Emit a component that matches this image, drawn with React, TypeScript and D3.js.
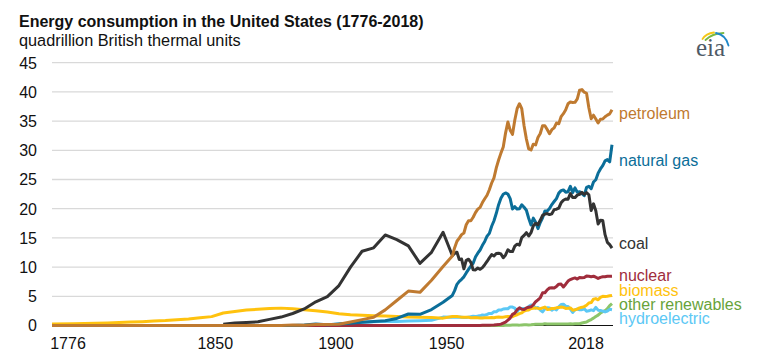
import React from "react";
import * as d3 from "d3";

// ---------- DATA ----------
const earlyYears = [1776, 1785, 1795, 1800, 1805, 1810, 1815, 1820, 1825, 1830, 1835, 1840, 1845,
  1850, 1855, 1860, 1865, 1870, 1875, 1880, 1885, 1890, 1895, 1900, 1905, 1910, 1915, 1920, 1925,
  1930, 1935, 1940, 1945];
const annualYears = d3.range(1949, 2019);
const years = [...earlyYears, ...annualYears];

const petroleum = [0, 0, 0, 0, 0, 0, 0, 0, 0, 0, 0, 0, 0,
  0, 0, 0.003, 0.01, 0.011, 0.011, 0.096, 0.04, 0.156, 0.168, 0.229, 0.61, 1.007, 1.418, 2.676, 4.28,
  5.897, 5.675, 7.76, 10.11,
  11.88, 13.32, 14.43, 14.96, 15.56, 15.84, 17.25, 17.94, 17.93, 18.53, 19.32, 19.92, 20.22, 21.05,
  21.7, 22.3, 23.25, 24.4, 25.28, 26.98, 28.34, 29.52, 30.56, 32.95, 34.84, 33.45, 32.73, 35.18,
  37.12, 37.97, 37.12, 34.2, 31.93, 30.23, 30.05, 31.05, 30.92, 32.2, 32.87, 34.22, 34.21, 33.55,
  32.85, 33.53, 33.84, 34.67, 34.55, 35.76, 36.27, 36.93, 37.96, 38.26, 38.19, 38.22, 38.81, 40.29,
  40.39, 39.95, 39.77, 37.28, 35.4, 36.01, 35.36, 34.69, 35.32, 35.36, 35.74, 36.02, 36.24, 36.95];

const naturalGas = [0, 0, 0, 0, 0, 0, 0, 0, 0, 0, 0, 0, 0,
  0, 0, 0, 0, 0, 0, 0, 0.082, 0.257, 0.147, 0.252, 0.372, 0.54, 0.673, 0.827, 1.212,
  1.969, 1.919, 2.726, 3.973,
  5.15, 5.97, 7.05, 7.55, 7.91, 8.33, 9.0, 9.61, 10.19, 10.66, 11.72, 12.39, 12.93, 13.73,
  14.4, 15.29, 15.77, 16.99, 17.94, 19.21, 20.68, 21.79, 22.47, 22.7, 22.51, 21.73, 19.95, 20.35,
  19.93, 20.0, 20.67, 20.24, 19.74, 18.36, 17.2, 18.38, 17.7, 16.59, 17.64, 18.45, 19.6, 19.6,
  20.03, 20.71, 21.23, 21.73, 22.67, 23.09, 23.22, 22.83, 22.91, 23.82, 22.77, 23.56, 22.83, 22.91,
  22.56, 22.22, 23.66, 23.84, 23.42, 24.57, 24.96, 26.09, 26.81, 27.38, 28.19, 28.4, 28.03, 30.96];

const coal = [null, null, null, null, null, null, null, null, null, null, null, null, null,
  0.219, 0.421, 0.518, 0.632, 1.048, 1.44, 2.054, 2.84, 4.062, 4.95, 6.841, 10.001, 12.714, 13.294,
  15.504, 14.706, 13.639, 10.634, 12.535, 15.972,
  11.98, 12.35, 12.55, 11.31, 11.37, 9.71, 11.17, 11.35, 10.82, 9.53, 9.52, 9.84, 9.62, 9.91,
  10.41, 10.96, 11.58, 12.14, 11.91, 12.33, 12.38, 12.26, 11.6, 12.08, 12.97, 12.66, 12.66, 13.58,
  13.92, 13.77, 15.04, 15.42, 15.91, 15.32, 15.89, 17.07, 17.48, 17.26, 18.01, 18.85, 19.07, 19.17,
  18.99, 19.12, 19.84, 19.91, 20.09, 21.0, 21.45, 21.66, 21.62, 22.58, 21.91, 21.9, 22.32, 22.47,
  22.8, 22.45, 22.75, 22.39, 19.69, 20.83, 19.66, 17.38, 18.04, 17.99, 15.55, 14.23, 13.84, 13.24];

const nuclear = [0, 0, 0, 0, 0, 0, 0, 0, 0, 0, 0, 0, 0,
  0, 0, 0, 0, 0, 0, 0, 0, 0, 0, 0, 0, 0, 0, 0, 0, 0, 0, 0, 0,
  0, 0, 0, 0, 0, 0, 0, 0, 0, 0.002, 0.002, 0.006, 0.02, 0.026,
  0.038, 0.04, 0.043, 0.064, 0.088, 0.142, 0.154, 0.239, 0.413, 0.584, 0.91, 1.272, 1.9, 2.111,
  2.702, 3.024, 2.776, 2.739, 3.008, 3.131, 3.203, 3.553, 4.076, 4.38, 4.754, 5.587, 5.602, 6.104,
  6.422, 6.479, 6.41, 6.694, 7.075, 7.087, 6.597, 7.068, 7.61, 7.862, 8.029, 8.145, 7.959, 8.223,
  8.161, 8.215, 8.459, 8.426, 8.355, 8.434, 8.269, 8.062, 8.244, 8.338, 8.337, 8.427, 8.419, 8.438];

const biomass = [0.249, 0.31, 0.402, 0.44, 0.51, 0.58, 0.65, 0.76, 0.85, 1.0, 1.13, 1.32, 1.52,
  2.138, 2.389, 2.641, 2.767, 2.893, 2.975, 2.851, 2.683, 2.515, 2.306, 2.015, 1.843, 1.765, 1.688,
  1.61, 1.533, 1.455, 1.397, 1.358, 1.261,
  1.549, 1.562, 1.535, 1.474, 1.419, 1.394, 1.424, 1.416, 1.334, 1.323, 1.353, 1.32, 1.295, 1.3,
  1.323, 1.337, 1.335, 1.369, 1.34, 1.419, 1.44, 1.431, 1.432, 1.503, 1.529, 1.54, 1.499, 1.713,
  1.838, 2.038, 2.152, 2.476, 2.596, 2.664, 2.904, 2.971, 3.016, 2.932, 2.875, 3.016, 3.16, 2.735,
  2.782, 2.932, 2.908, 3.028, 3.101, 3.157, 3.105, 2.927, 2.963, 3.006, 2.622, 2.701, 2.807, 3.01,
  3.114, 3.233, 3.474, 3.852, 3.931, 4.505, 4.604, 4.402, 4.81, 4.99, 4.983, 5.02, 5.081, 5.128];

const otherRenewables = [0, 0, 0, 0, 0, 0, 0, 0, 0, 0, 0, 0, 0,
  0, 0, 0, 0, 0, 0, 0, 0, 0, 0, 0, 0, 0, 0, 0, 0, 0, 0, 0, 0,
  0, 0, 0, 0, 0, 0, 0, 0, 0, 0, 0, 0.001, 0.002, 0.002,
  0.004, 0.005, 0.004, 0.004, 0.007, 0.009, 0.013, 0.011, 0.012, 0.031, 0.043, 0.053, 0.07, 0.078,
  0.077, 0.064, 0.084, 0.11, 0.123, 0.105, 0.129, 0.165, 0.198, 0.219, 0.229, 0.217, 0.317, 0.26,
  0.265, 0.269, 0.272, 0.268, 0.254, 0.265, 0.266, 0.262, 0.271, 0.284, 0.268, 0.289, 0.296, 0.31,
  0.422, 0.513, 0.603, 0.827, 1.019, 1.257, 1.551, 1.779, 2.134, 2.369, 2.524, 2.876, 3.4, 3.75];

const hydroelectric = [0, 0, 0, 0, 0, 0, 0, 0, 0, 0, 0, 0, 0,
  0, 0, 0, 0, 0, 0, 0, 0, 0.022, 0.085, 0.25, 0.386, 0.539, 0.659, 0.738, 0.668,
  0.752, 0.831, 0.88, 1.442,
  1.425, 1.415, 1.424, 1.466, 1.413, 1.36, 1.36, 1.435, 1.516, 1.592, 1.548, 1.608, 1.656, 1.816,
  1.771, 1.886, 2.059, 2.062, 2.347, 2.349, 2.648, 2.634, 2.824, 2.864, 2.861, 3.177, 3.155, 2.976,
  2.333, 2.937, 2.931, 2.9, 2.758, 3.266, 3.527, 3.386, 2.97, 3.071, 2.635, 2.334, 2.837, 3.046,
  3.016, 2.617, 2.892, 2.683, 3.205, 3.59, 3.64, 3.297, 3.268, 2.811, 2.242, 2.689, 2.825, 2.69,
  2.703, 2.869, 2.446, 2.511, 2.669, 2.539, 3.103, 2.629, 2.562, 2.467, 2.321, 2.472, 2.767, 2.688];

const yTicks = [0, 5, 10, 15, 20, 25, 30, 35, 40, 45];
const xTickYears = [1776, 1850, 1900, 1950, 2018];

// ---------- STYLE / LAYOUT ----------
const FONT = "'Liberation Sans', Arial, Helvetica, sans-serif";
const xTickNudge = [16, -8, -3, -8, -26];

type S = { key: string; label: string; values: (number | null)[]; color: string; textColor: string; labelY: number };
const seriesDraw: S[] = [
  { key: "other", label: "other renewables", values: otherRenewables, color: "#8cc56a", textColor: "#68a33a", labelY: 310 },
  { key: "hydro", label: "hydroelectric", values: hydroelectric, color: "#5cc8f5", textColor: "#5cc8f5", labelY: 323.5 },
  { key: "biomass", label: "biomass", values: biomass, color: "#ffc20e", textColor: "#ffc20e", labelY: 296 },
  { key: "nuclear", label: "nuclear", values: nuclear, color: "#a02d3c", textColor: "#a02d3c", labelY: 281 },
  { key: "gas", label: "natural gas", values: naturalGas, color: "#0b6e99", textColor: "#0b6e99", labelY: 166 },
  { key: "coal", label: "coal", values: coal, color: "#333333", textColor: "#333333", labelY: 248.5 },
  { key: "petroleum", label: "petroleum", values: petroleum, color: "#bf7a30", textColor: "#bf7a30", labelY: 119 },
];

export default function App() {
  const W = 770, H = 356;
  const x = d3.scaleLinear().domain([1776, 2018]).range([52, 612]);
  const y = d3.scaleLinear().domain([0, 45]).range([325.5, 62.7]);

  const line = d3
    .line<[number, number | null]>()
    .defined((d) => d[1] !== null)
    .x((d) => x(d[0]))
    .y((d) => y(d[1] as number));

  return (
    <svg width={W} height={H} style={{ position: "absolute", left: 0, top: 0, background: "#fff" }} fontFamily={FONT}>
      <text x={19} y={27} fontSize={16} fontWeight="bold" fill="#111">
        Energy consumption in the United States (1776-2018)
      </text>
      <text x={19} y={46} fontSize={16.3} fill="#111">
        quadrillion British thermal units
      </text>

      {/* eia logo */}
      <g fill="none" strokeLinecap="round">
        <path d="M702.5,39 Q706,33.5 714,32.5" stroke="#f4c718" strokeWidth={1.8} />
        <path d="M705.5,40 Q712,33.5 723.5,33" stroke="#79b943" strokeWidth={1.8} />
        <path d="M716,33 Q726,35 728.5,45.5" stroke="#1f88c9" strokeWidth={1.8} />
      </g>
      <text x={696} y={56} fontSize={25} fill="#4e5a66" fontFamily="'Liberation Serif', 'DejaVu Serif', serif">
        eia
      </text>

      {/* grid */}
      {yTicks.filter((t) => t > 0).map((t) => (
        <line key={t} x1={52} x2={613} y1={y(t)} y2={y(t)} stroke="#d9d9d9" strokeWidth={1.3} />
      ))}
      {yTicks.map((t) => (
        <text key={"yl" + t} x={37} y={y(t) + 5.8} fontSize={16} textAnchor="end" fill="#111">
          {t}
        </text>
      ))}
      <line x1={52} x2={613} y1={y(0)} y2={y(0)} stroke="#111" strokeWidth={1} />

      {xTickYears.map((yr, i) => (
        <text key={yr} x={x(yr) + xTickNudge[i]} y={349} fontSize={16} textAnchor="middle" fill="#111">
          {yr}
        </text>
      ))}

      {seriesDraw.map((s) => (
        <path
          key={s.key}
          d={line(years.map((yr, i) => [yr, s.values[i]] as [number, number | null])) || ""}
          fill="none"
          stroke={s.color}
          strokeWidth={3}
          strokeLinejoin="round"
        />
      ))}

      {seriesDraw.map((s) => (
        <text key={"lab" + s.key} x={619} y={s.labelY} fontSize={16} fill={s.textColor}>
          {s.label}
        </text>
      ))}
    </svg>
  );
}
